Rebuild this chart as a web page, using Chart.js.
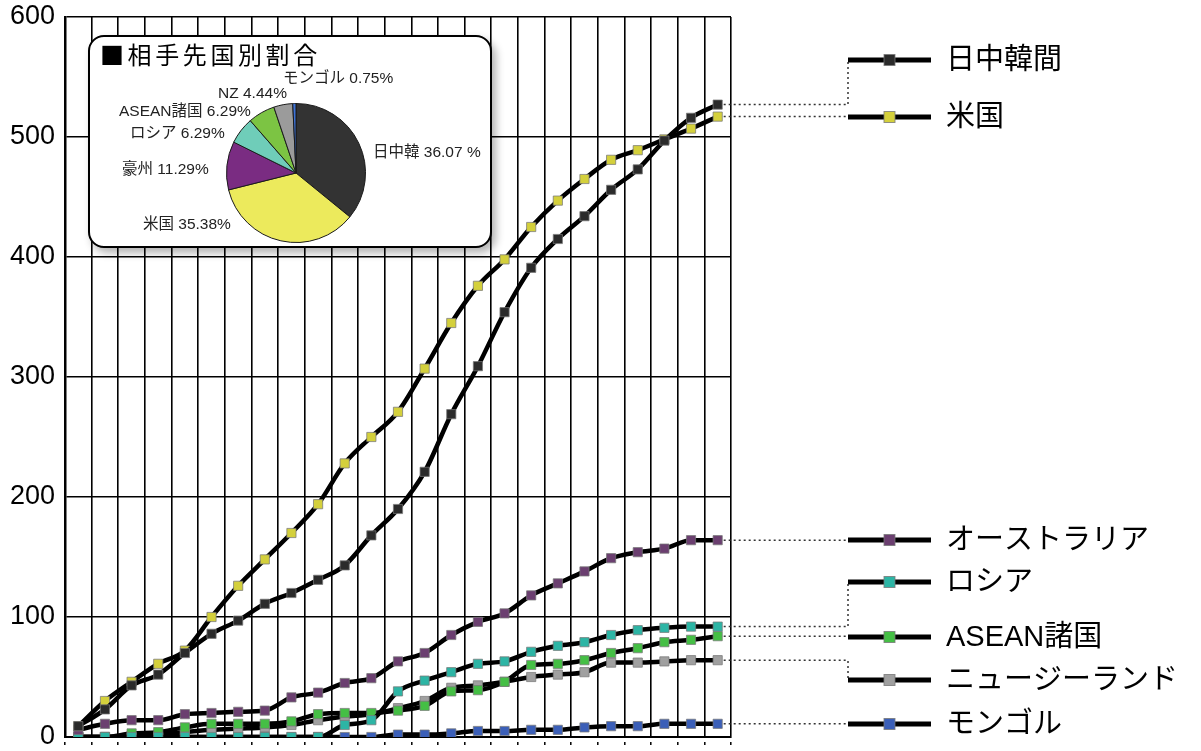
<!DOCTYPE html>
<html lang="ja">
<head>
<meta charset="utf-8">
<script src="https://cdn.jsdelivr.net/npm/chart.js@4.4.1/dist/chart.umd.min.js"></script>
<style>
  html, body { margin: 0; padding: 0; background: #fff; }
  body { width: 1201px; height: 751px; position: relative; overflow: hidden;
         font-family: 'Liberation Sans', 'Noto Sans CJK JP', sans-serif; }
  #main { position: absolute; left: 0; top: 0; }
  #inset { position: absolute; left: 88px; top: 35px; width: 404px; height: 213px; box-sizing: border-box;
           border: 2.5px solid #000; border-radius: 16px; background: #fff;
           box-shadow: 4px 5px 8px rgba(0,0,0,0.3); }
  #pieTitle { position: absolute; left: 100px; top: 53px; transform: translateY(-50%);
              font-size: 24px; letter-spacing: 3.6px; color: #000; white-space: nowrap;
              font-family: 'Noto Sans CJK JP', sans-serif; }
  #pie { position: absolute; left: 216px; top: 93px; }
  .pl { position: absolute; font-size: 15.5px; color: #222; white-space: nowrap; transform: translateY(-50%); }
</style>
</head>
<body>
<canvas id="main" width="1201" height="751"></canvas>
<div id="inset"></div>
<div id="pieTitle">■相手先国別割合</div>
<canvas id="pie" width="160" height="160"></canvas>
<div id="pieLabels"></div>
<script>
// 期間（横軸、ラベルは非表示）
const periods = ['1','2','3','4','5','6','7','8','9','10','11','12','13','14','15','16','17','18','19','20','21','22','23','24','25'];

// 相手先国別の累計
const jck       = [9, 23, 43, 52, 70, 86, 97, 111, 120, 131, 143, 168, 190, 221, 269, 309, 354, 391, 415, 434, 456, 473, 497, 516, 527];
const usa       = [9, 30, 46, 61, 72, 100, 126, 148, 170, 194, 228, 250, 271, 307, 345, 376, 398, 425, 447, 465, 481, 489, 498, 507, 517];
const australia = [6, 11, 14, 14, 19, 20, 21, 22, 33, 37, 45, 49, 63, 70, 85, 96, 103, 118, 128, 138, 149, 154, 157, 164, 164];
const russia    = [0, 0, 0, 0, 0, 0, 0, 0, 0, 0, 10, 14, 38, 47, 54, 61, 63, 71, 76, 79, 85, 89, 91, 92, 92];
const asean     = [0, 0, 3, 4, 8, 11, 11, 11, 13, 19, 20, 20, 22, 26, 38, 39, 46, 60, 61, 64, 70, 74, 79, 81, 84];
const nz        = [0, 0, 1, 2, 4, 6, 7, 8, 10, 14, 17, 19, 24, 30, 41, 43, 46, 50, 52, 54, 62, 62, 63, 64, 64];
const mongolia  = [0, 0, 0, 0, 0, 0, 0, 0, 0, 0, 0, 0, 2, 2, 3, 5, 5, 6, 6, 8, 9, 9, 11, 11, 11];

const seriesNames  = ['日中韓間', '米国', 'オーストラリア', 'ロシア', 'ASEAN諸国', 'ニュージーランド', 'モンゴル'];
const seriesData   = [jck, usa, australia, russia, asean, nz, mongolia];
const markerColors = ['#2b2b2b', '#d4d03c', '#6b3f70', '#2db5a5', '#45bf45', '#a0a0a0', '#3b5fb8'];

// 円グラフ（相手先国別割合 %）
const pieNames  = ['日中韓', '米国', '豪州', 'ロシア', 'ASEAN諸国', 'NZ', 'モンゴル'];
const pieShares = [36.07, 35.38, 11.29, 6.29, 6.29, 4.44, 0.75];
const pieColors = ['#333333', '#ecea5c', '#7a2c82', '#6fcdb9', '#7cc443', '#9b9b9b', '#3d72d6'];
const pieLabelText = ['日中韓 36.07 %', '米国 35.38%', '豪州 11.29%', 'ロシア 6.29%', 'ASEAN諸国 6.29%', 'NZ 4.44%', 'モンゴル 0.75%'];
const pieLabelPos  = [[373, 150], [143, 222], [122, 167], [130, 131], [119, 109], [218, 93], [283, 76]];

// 右側の凡例の縦位置
const legendY = [60, 117, 540, 582, 637, 680, 724];
const LEG_X1 = 848, LEG_X2 = 931, LEG_TEXT = 946;

const FONT = "'Liberation Sans', 'Noto Sans CJK JP', sans-serif";

// 最終点から右の凡例へ点線でつなぎ、凡例を描く
const sideLegend = {
  id: 'sideLegend',
  afterDraw(chart) {
    const ctx = chart.ctx;
    ctx.save();
    seriesData.forEach((d, i) => {
      const meta = chart.getDatasetMeta(i);
      const last = meta.data[meta.data.length - 1];
      const ly = legendY[i];
      ctx.setLineDash([2, 3]);
      ctx.lineWidth = 1.5;
      ctx.strokeStyle = '#333';
      ctx.beginPath();
      ctx.moveTo(last.x + 6, last.y);
      ctx.lineTo(LEG_X1, last.y);
      ctx.lineTo(LEG_X1, ly);
      ctx.stroke();
      ctx.setLineDash([]);
      ctx.lineWidth = 5;
      ctx.strokeStyle = '#000';
      ctx.beginPath();
      ctx.moveTo(LEG_X1, ly);
      ctx.lineTo(LEG_X2, ly);
      ctx.stroke();
      const mx = (LEG_X1 + LEG_X2) / 2;
      ctx.fillStyle = markerColors[i];
      ctx.fillRect(mx - 5.5, ly - 5.5, 11, 11);
      ctx.lineWidth = 1;
      ctx.strokeStyle = 'rgba(120,120,120,0.8)';
      ctx.strokeRect(mx - 5.5, ly - 5.5, 11, 11);
      ctx.fillStyle = '#000';
      ctx.font = '29px ' + FONT;
      ctx.textBaseline = 'middle';
      ctx.fillText(seriesNames[i], LEG_TEXT, ly + 1);
    });
    ctx.restore();
  }
};

new Chart(document.getElementById('main'), {
  type: 'line',
  data: {
    labels: periods,
    datasets: seriesData.map((d, i) => ({
      label: seriesNames[i],
      data: d,
      borderColor: '#000',
      borderWidth: 4.5,
      cubicInterpolationMode: 'monotone',
      pointStyle: 'rect',
      pointRadius: 6.5,
      pointBackgroundColor: markerColors[i],
      pointBorderColor: 'rgba(120,120,120,0.75)',
      pointBorderWidth: 1
    }))
  },
  options: {
    responsive: false,
    animation: false,
    devicePixelRatio: 1,
    layout: { padding: { left: 0, right: 470, top: 17, bottom: 0 } },
    plugins: { legend: { display: false }, tooltip: { enabled: false } },
    scales: {
      x: {
        type: 'category',
        offset: true,
        grid: {
          offset: true, color: '#000', lineWidth: 1.6,
          drawTicks: true, tickLength: 8, tickColor: '#000', tickWidth: 1.5,
          tickBorderDash: [4, 4], tickBorderDashOffset: 4
        },
        border: { color: '#000', width: 2 },
        ticks: { display: false },
        afterFit(scale) {
          scale.height = 14;
          scale.paddingLeft = 0;
          scale.paddingRight = 0;
        }
      },
      y: {
        min: 0, max: 600,
        ticks: { stepSize: 100, color: '#000', padding: 10, font: { family: FONT, size: 27 } },
        grid: { color: '#000', lineWidth: 1.6, drawTicks: false },
        border: { color: '#000', width: 2.5 },
        afterFit(scale) {
          scale.width = 65;
          scale.paddingTop = 0;
          scale.paddingBottom = 0;
        }
      }
    }
  },
  plugins: [sideLegend]
});

new Chart(document.getElementById('pie'), {
  type: 'pie',
  data: {
    labels: pieNames,
    datasets: [{
      data: pieShares,
      backgroundColor: pieColors,
      borderColor: '#1a1a1a',
      borderWidth: 1
    }]
  },
  options: {
    responsive: false,
    animation: false,
    devicePixelRatio: 1,
    layout: { padding: 10 },
    plugins: { legend: { display: false }, tooltip: { enabled: false } }
  }
});

const holder = document.getElementById('pieLabels');
pieLabelText.forEach((t, i) => {
  const el = document.createElement('div');
  el.className = 'pl';
  el.textContent = t;
  el.style.left = pieLabelPos[i][0] + 'px';
  el.style.top = pieLabelPos[i][1] + 'px';
  holder.appendChild(el);
});
</script>
</body>
</html>
